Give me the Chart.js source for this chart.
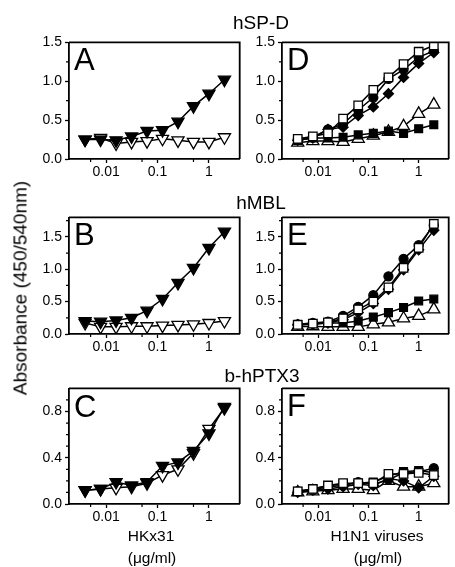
<!DOCTYPE html>
<html><head><meta charset="utf-8">
<script src="https://cdn.jsdelivr.net/npm/chart.js@4.4.1/dist/chart.umd.min.js"></script>
<style>
html,body{margin:0;padding:0;background:#fff;}
#wrap{position:relative;width:455px;height:567px;overflow:hidden;font-family:"Liberation Sans",Arial,sans-serif;color:#000;background:#fff;}
canvas{position:absolute;}
.t{position:absolute;white-space:nowrap;line-height:1;transform:translate(-50%,-50%);}
.l{position:absolute;white-space:nowrap;line-height:1;font-size:31px;transform:translateY(-50%);}
</style></head>
<body><div id="wrap">
<canvas id="cA" width="248" height="152" style="left:0;top:31px"></canvas>
<canvas id="cD" width="207" height="152" style="left:250px;top:31px"></canvas>
<canvas id="cB" width="248" height="152" style="left:0;top:206px"></canvas>
<canvas id="cE" width="207" height="152" style="left:250px;top:206px"></canvas>
<canvas id="cC" width="248" height="151" style="left:0;top:377px"></canvas>
<canvas id="cF" width="207" height="151" style="left:250px;top:377px"></canvas>

<div class="t" style="left:261px;top:22px;font-size:19px">hSP-D</div>
<div class="t" style="left:261px;top:202px;font-size:19px">hMBL</div>
<div class="t" style="left:262px;top:375px;font-size:19px">b-hPTX3</div>
<div class="t" style="left:20px;top:288px;font-size:19px;transform:translate(-50%,-50%) rotate(-90deg)">Absorbance (450/540nm)</div>

<div class="l" style="left:74px;top:59px">A</div>
<div class="l" style="left:287px;top:59px">D</div>
<div class="l" style="left:74px;top:234px">B</div>
<div class="l" style="left:287px;top:234px">E</div>
<div class="l" style="left:74px;top:406px">C</div>
<div class="l" style="left:287px;top:405px">F</div>

<div class="t" style="left:151px;top:536px;font-size:15.5px">HKx31</div>
<div class="t" style="left:152px;top:558px;font-size:15.5px">(μg/ml)</div>
<div class="t" style="left:377px;top:536px;font-size:15.5px">H1N1 viruses</div>
<div class="t" style="left:378px;top:558px;font-size:15.5px">(μg/ml)</div>
</div>
<script>
// ---- data ----
const conc = [0.00390625, 0.0078125, 0.015625, 0.03125, 0.0625, 0.125, 0.25, 0.5, 1, 2];
const xTicks = [0.01, 0.1, 1];
const xTickLabels = ['0.01', '0.1', '1'];
const xMinor = [0.005, 0.05, 0.5];

const yTicksTop = [0, 0.5, 1.0, 1.5];
const yMinorTop = [0.25, 0.75, 1.25];
const yTicksMid = [0, 0.5, 1.0, 1.5];
const yMinorMid = [0.25, 0.75, 1.25, 1.75];
const yTicksBot = [0, 0.4, 0.8];
const yMinorBot = [0.1, 0.2, 0.3, 0.5, 0.6, 0.7, 0.9];

// Panel A (hSP-D, HKx31)
const A_filled = [0.25, 0.25, 0.24, 0.29, 0.36, 0.37, 0.48, 0.68, 0.84, 1.02];
const A_open   = [0.25, 0.27, 0.20, 0.22, 0.23, 0.26, 0.24, 0.22, 0.22, 0.28];
// Panel B (hMBL, HKx31)
const B_filled = [0.20, 0.19, 0.21, 0.25, 0.36, 0.54, 0.79, 1.02, 1.33, 1.58];
const B_open   = [0.17, 0.11, 0.11, 0.12, 0.12, 0.13, 0.14, 0.15, 0.17, 0.20];
// Panel C (b-hPTX3, HKx31)
const C_filled = [0.12, 0.13, 0.19, 0.16, 0.19, 0.33, 0.36, 0.46, 0.61, 0.84];
const C_open   = [0.12, 0.13, 0.14, 0.15, 0.18, 0.25, 0.30, 0.44, 0.65, 0.83];

// Panel D (hSP-D, H1N1)
const D_sqOpen = [0.26, 0.29, 0.33, 0.52, 0.69, 0.89, 1.05, 1.22, 1.38, 1.46];
const D_circ   = [0.25, 0.28, 0.38, 0.45, 0.63, 0.79, 1.03, 1.15, 1.31, 1.39];
const D_diam   = [0.24, 0.27, 0.38, 0.41, 0.56, 0.67, 0.84, 1.05, 1.23, 1.37];
const D_sqFill = [0.24, 0.27, 0.27, 0.28, 0.31, 0.33, 0.36, 0.33, 0.39, 0.44];
const D_tri    = [0.21, 0.23, 0.23, 0.22, 0.26, 0.30, 0.35, 0.42, 0.58, 0.70];
// Panel E (hMBL, H1N1)
const E_sqOpen = [0.14, 0.16, 0.18, 0.24, 0.38, 0.50, 0.72, 1.02, 1.33, 1.70];
const E_circ   = [0.15, 0.17, 0.19, 0.28, 0.42, 0.60, 0.89, 1.16, 1.37, 1.68];
const E_diam   = [0.14, 0.15, 0.17, 0.22, 0.33, 0.47, 0.69, 0.99, 1.30, 1.60];
const E_sqFill = [0.15, 0.16, 0.17, 0.17, 0.20, 0.26, 0.33, 0.41, 0.51, 0.54];
const E_tri    = [0.11, 0.12, 0.11, 0.11, 0.11, 0.15, 0.18, 0.24, 0.28, 0.38];
// Panel F (b-hPTX3, H1N1)
const F_sqOpen = [0.11, 0.13, 0.16, 0.18, 0.18, 0.18, 0.26, 0.26, 0.27, 0.25];
const F_circ   = [0.11, 0.12, 0.15, 0.16, 0.19, 0.17, 0.21, 0.27, 0.28, 0.31];
const F_diam   = [0.10, 0.12, 0.13, 0.15, 0.17, 0.16, 0.22, 0.20, 0.14, 0.24];
const F_sqFill = [0.11, 0.13, 0.16, 0.17, 0.18, 0.19, 0.24, 0.28, 0.29, 0.27];
const F_tri    = [0.10, 0.11, 0.12, 0.13, 0.13, 0.12, 0.20, 0.15, 0.15, 0.18];

// ---- styles ----
const FONT = '"Liberation Sans", Arial, sans-serif';
const STY = {
  triDownFill: {pointStyle: 'triangle', rotation: 180, radius: 7, bg: '#000'},
  triDownOpen: {pointStyle: 'triangle', rotation: 180, radius: 7, bg: '#fff'},
  sqOpen: {pointStyle: 'rect', rotation: 0, radius: 6, bg: '#fff'},
  circ: {pointStyle: 'circle', rotation: 0, radius: 4.5, bg: '#000'},
  diam: {pointStyle: 'rectRot', rotation: 0, radius: 5, bg: '#000'},
  sqFill: {pointStyle: 'rect', rotation: 0, radius: 5.5, bg: '#000'},
  triUpOpen: {pointStyle: 'triangle', rotation: 0, radius: 7, bg: '#fff'}
};

function ds(vals, s) {
  return {
    data: conc.map((c, i) => ({x: c, y: vals[i]})),
    borderColor: '#000', borderWidth: 1.5,
    pointStyle: s.pointStyle, pointRotation: s.rotation, pointRadius: s.radius,
    pointBackgroundColor: s.bg, pointBorderColor: '#000', pointBorderWidth: 1.3,
    tension: 0, fill: false
  };
}

const frame = {
  id: 'frame',
  afterDraw(chart, args, opts) {
    const {ctx, chartArea: a, scales} = chart;
    ctx.save();
    ctx.strokeStyle = '#000';
    ctx.lineWidth = 1.8;
    ctx.beginPath();
    ctx.moveTo(a.left, a.top); ctx.lineTo(a.right, a.top); ctx.lineTo(a.right, a.bottom);
    ctx.stroke();
    ctx.lineWidth = 1.2;
    ctx.beginPath();
    for (const v of opts.xMinor) {
      const px = scales.x.getPixelForValue(v);
      ctx.moveTo(px, a.bottom); ctx.lineTo(px, a.bottom + 3);
    }
    for (const v of opts.yMinor) {
      const py = scales.y.getPixelForValue(v);
      ctx.moveTo(a.left, py); ctx.lineTo(a.left - 3, py);
    }
    ctx.stroke();
    ctx.restore();
  }
};

function panel(id, datasets, yMax, yTicks, yMinor, left) {
  const yW = left ? 69 : 32;
  const pr = left ? 4 : 0;
  new Chart(document.getElementById(id), {
    type: 'line',
    data: {datasets},
    plugins: [frame],
    options: {
      responsive: false, animation: false,
      layout: {padding: {top: 10, right: pr, bottom: 0, left: 0}},
      plugins: {legend: {display: false}, tooltip: {enabled: false}, frame: {xMinor, yMinor}},
      scales: {
        x: {
          type: 'logarithmic', min: 0.0019, max: 3.96,
          afterBuildTicks: s => { s.ticks = xTicks.map(v => ({value: v})); },
          afterFit: s => { s.height = 24; },
          border: {display: true, color: '#000', width: 1.8},
          grid: {display: true, drawOnChartArea: false, drawTicks: true, tickLength: 4, color: '#000', tickWidth: 1.3},
          ticks: {
            autoSkip: false, maxRotation: 0, padding: 1, color: '#000',
            font: {family: FONT, size: 14},
            callback: v => { const i = xTicks.indexOf(v); return i >= 0 ? xTickLabels[i] : ''; }
          }
        },
        y: {
          type: 'linear', min: 0, max: yMax,
          afterBuildTicks: s => { s.ticks = yTicks.map(v => ({value: v})); },
          afterFit: s => { s.width = yW; },
          border: {display: true, color: '#000', width: 1.8},
          grid: {display: true, drawOnChartArea: false, drawTicks: true, tickLength: 4, color: '#000', tickWidth: 1.3},
          ticks: {
            autoSkip: false, padding: 3, color: '#000',
            font: {family: FONT, size: 14},
            callback: v => Number(v).toFixed(1)
          }
        }
      }
    }
  });
}

panel('cA', [ds(A_filled, STY.triDownFill), ds(A_open, STY.triDownOpen)], 1.5, yTicksTop, yMinorTop, true);
panel('cB', [ds(B_filled, STY.triDownFill), ds(B_open, STY.triDownOpen)], 1.8, yTicksMid, yMinorMid, true);
panel('cC', [ds(C_filled, STY.triDownFill), ds(C_open, STY.triDownOpen)], 1.0, yTicksBot, yMinorBot, true);
panel('cD', [ds(D_sqOpen, STY.sqOpen), ds(D_circ, STY.circ), ds(D_diam, STY.diam), ds(D_sqFill, STY.sqFill), ds(D_tri, STY.triUpOpen)], 1.5, yTicksTop, yMinorTop, false);
panel('cE', [ds(E_sqOpen, STY.sqOpen), ds(E_circ, STY.circ), ds(E_diam, STY.diam), ds(E_sqFill, STY.sqFill), ds(E_tri, STY.triUpOpen)], 1.8, yTicksMid, yMinorMid, false);
panel('cF', [ds(F_sqOpen, STY.sqOpen), ds(F_circ, STY.circ), ds(F_diam, STY.diam), ds(F_sqFill, STY.sqFill), ds(F_tri, STY.triUpOpen)], 1.0, yTicksBot, yMinorBot, false);
</script>
</body></html>
